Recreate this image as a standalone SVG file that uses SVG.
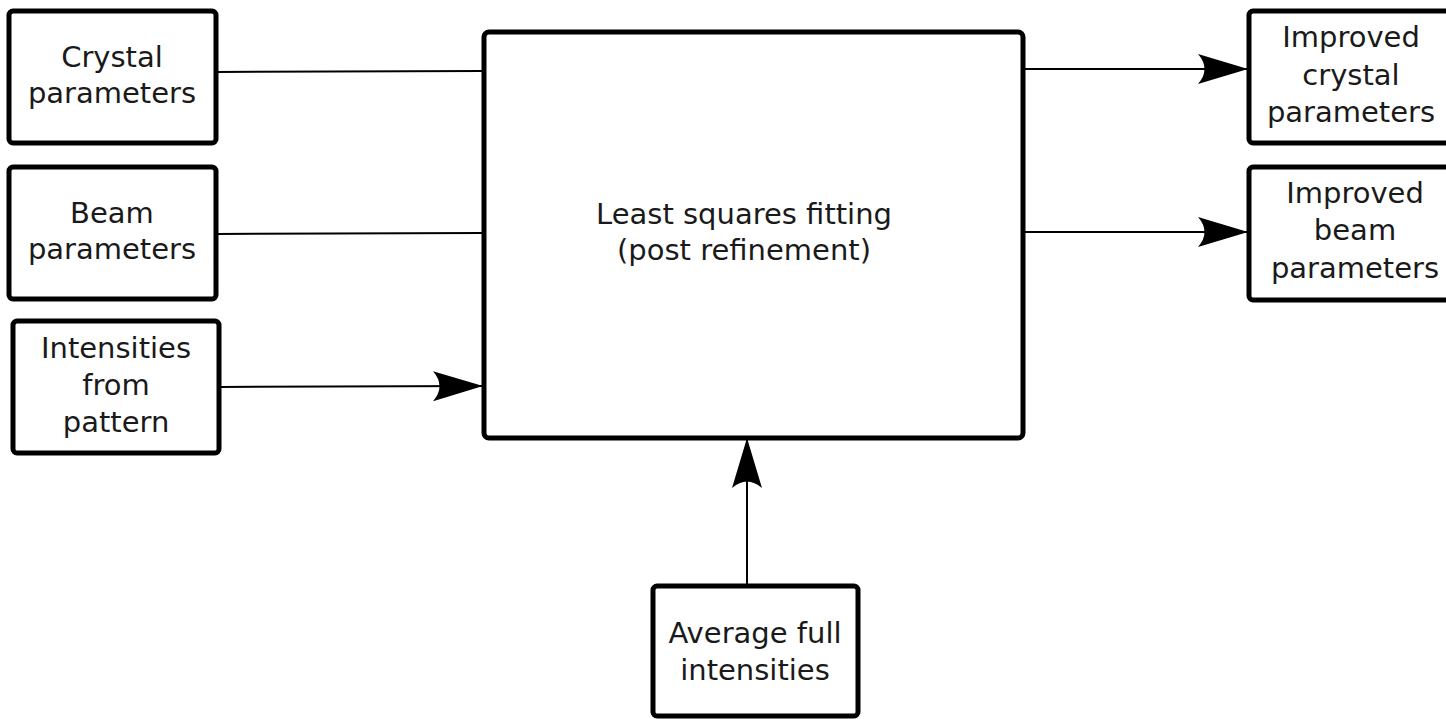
<svg xmlns="http://www.w3.org/2000/svg" width="1446" height="719" viewBox="0 0 1446 719">
<style>
.box{fill:#fff;stroke:#000;stroke-width:5}
.ln{fill:none;stroke:#000;stroke-width:2}
text{font-family:"DejaVu Sans",sans-serif;font-size:29px;fill:#1a1a1a;text-anchor:middle}
</style>
<defs>
<marker id="arr" markerUnits="userSpaceOnUse" markerWidth="52" markerHeight="34" refX="50" refY="17" orient="auto" viewBox="0 0 52 34">
<path d="M50,17 L0,2 Q13,17 0,32 Z" fill="#000"/>
</marker>
</defs>
<g id="connectors">
<line class="ln" x1="217" y1="72" x2="483" y2="71"/>
<line class="ln" x1="217" y1="234" x2="483" y2="233"/>
<line class="ln" x1="220" y1="387" x2="483" y2="386" marker-end="url(#arr)"/>
<line class="ln" x1="1023" y1="69" x2="1248" y2="69" marker-end="url(#arr)"/>
<line class="ln" x1="1023" y1="232" x2="1248" y2="232" marker-end="url(#arr)"/>
<line class="ln" x1="747" y1="585" x2="747" y2="438" marker-end="url(#arr)"/>
</g>
<g id="crystal">
<rect class="box" x="9" y="11" width="207" height="132" rx="4"/>
<text x="112" y="67">Crystal</text>
<text x="112" y="103">parameters</text>
</g>
<g id="beam">
<rect class="box" x="9" y="167" width="207" height="132" rx="4"/>
<text x="112" y="223">Beam</text>
<text x="112" y="259">parameters</text>
</g>
<g id="intensities">
<rect class="box" x="13" y="321" width="206" height="132" rx="4"/>
<text x="116" y="358">Intensities</text>
<text x="116" y="395">from</text>
<text x="116" y="432">pattern</text>
</g>
<g id="fitting">
<rect class="box" x="484" y="32" width="539" height="406" rx="5"/>
<text x="744" y="224">Least squares fitting</text>
<text x="744" y="260">(post refinement)</text>
</g>
<g id="improved-crystal">
<rect class="box" x="1249" y="11" width="205" height="132" rx="4"/>
<text x="1351" y="47">Improved</text>
<text x="1351" y="85">crystal</text>
<text x="1351" y="122">parameters</text>
</g>
<g id="improved-beam">
<rect class="box" x="1249" y="167" width="205" height="133" rx="4"/>
<text x="1355" y="203">Improved</text>
<text x="1355" y="240">beam</text>
<text x="1355" y="278">parameters</text>
</g>
<g id="average">
<rect class="box" x="653" y="586" width="205" height="130" rx="4"/>
<text x="755" y="643">Average full</text>
<text x="755" y="680">intensities</text>
</g>
</svg>
